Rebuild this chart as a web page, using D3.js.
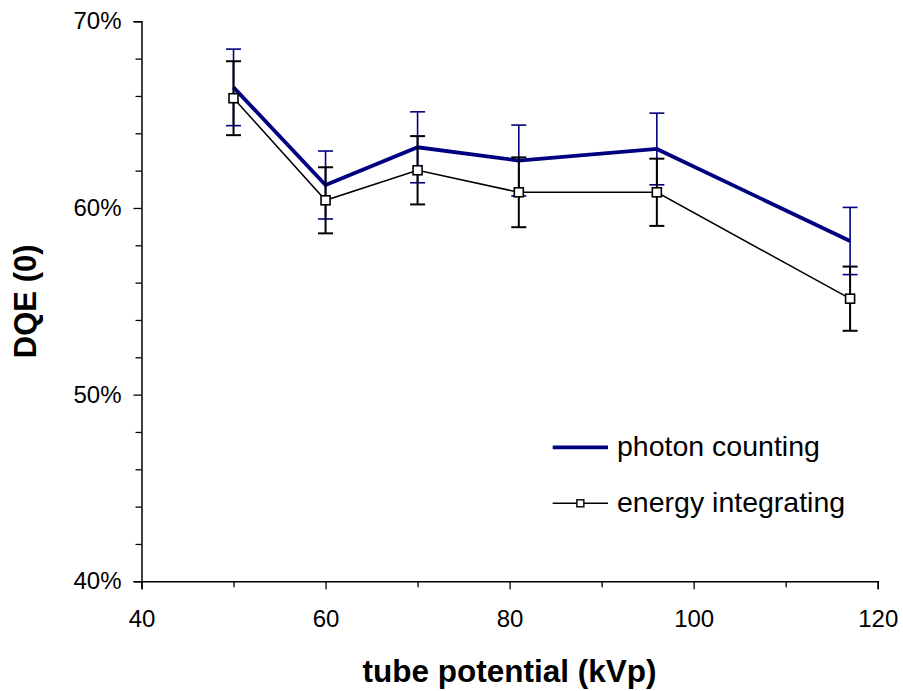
<!DOCTYPE html>
<html>
<head>
<meta charset="utf-8">
<script src="https://cdn.jsdelivr.net/npm/d3@7"></script>
<style>
  html, body { margin: 0; padding: 0; background: #fff; }
  svg { display: block; font-family: Arial, "Liberation Sans", sans-serif; }
</style>
</head>
<body>
<svg id="chart" width="903" height="691"></svg>
<script>
// ---- data ----
const kvp = [50, 60, 70, 81, 96, 117];
const photonCounting = [0.6646, 0.6123, 0.6325, 0.6254, 0.6316, 0.5823];
const photonCountingErr = [0.0205, 0.0182, 0.0190, 0.0190, 0.0192, 0.0180];
const energyIntegrating = [0.6588, 0.6041, 0.6202, 0.6084, 0.6084, 0.5514];
const energyIntegratingErr = [0.0198, 0.0177, 0.0183, 0.0187, 0.0180, 0.0172];
const xTicks = [40, 60, 80, 100, 120];
const xMinorTicks = [50, 70, 90, 110];
const yTicks = [0.40, 0.50, 0.60, 0.70];
const yMinorTicks = [0.42, 0.44, 0.46, 0.48, 0.52, 0.54, 0.56, 0.58, 0.62, 0.64, 0.66, 0.68];
const seriesNames = ["photon counting", "energy integrating"];
const xTitle = "tube potential (kVp)";
const yTitle = "DQE (0)";

// ---- layout ----
const svg = d3.select("#chart");
const L = 141.5, R = 877.7, T = 21.3, B = 581.3;
const x = d3.scaleLinear().domain([40, 120]).range([L, R]);
const y = d3.scaleLinear().domain([0.40, 0.70]).range([B, T]);
const navy = "#000080";

// axes
const xAxis = svg.append("g").attr("transform", `translate(0,${B})`)
  .call(d3.axisBottom(x).tickValues(xTicks).tickSize(8).tickPadding(21).tickFormat(d3.format("d")));
svg.append("g").attr("transform", `translate(0,${B})`)
  .call(d3.axisBottom(x).tickValues(xMinorTicks).tickSize(6).tickFormat(""))
  .select(".domain").remove();
const yAxis = svg.append("g").attr("transform", `translate(${L},0)`)
  .call(d3.axisLeft(y).tickValues(yTicks).tickSize(8).tickPadding(12).tickFormat(d3.format(".0%")));
svg.append("g").attr("transform", `translate(${L},0)`)
  .call(d3.axisLeft(y).tickValues(yMinorTicks).tickSize(6).tickFormat(""))
  .select(".domain").remove();

svg.selectAll(".domain").attr("stroke", "#000").attr("stroke-width", 1.5);
svg.selectAll(".tick line").attr("stroke", "#000").attr("stroke-width", 1.3);
svg.selectAll(".tick text").attr("fill", "#000").style("font-size", "24px")
  .style("font-family", "Arial, 'Liberation Sans', sans-serif");
yAxis.selectAll(".tick text").attr("dy", "0.32em");
xAxis.selectAll(".tick text").attr("dy", "0.71em");

// axis titles
svg.append("text").attr("x", (L + R) / 2).attr("y", 682).attr("text-anchor", "middle")
  .style("font-size", "31.5px").style("font-weight", "bold").text(xTitle);
svg.append("text").attr("transform", `translate(36,${(T + B) / 2}) rotate(-90)`)
  .attr("text-anchor", "middle").style("font-size", "31px").style("font-weight", "bold").text(yTitle);

// error bars helper
function errorBars(vals, errs, color, width) {
  const g = svg.append("g").attr("stroke", color).attr("stroke-width", width).attr("fill", "none");
  const capW = 7.5;
  kvp.forEach((k, i) => {
    const cx = x(k), hi = y(vals[i] + errs[i]), lo = y(vals[i] - errs[i]);
    g.append("line").attr("x1", cx).attr("x2", cx).attr("y1", hi).attr("y2", lo);
    g.append("line").attr("x1", cx - capW).attr("x2", cx + capW).attr("y1", hi).attr("y2", hi);
    g.append("line").attr("x1", cx - capW).attr("x2", cx + capW).attr("y1", lo).attr("y2", lo);
  });
}

const line = d3.line().x(d => x(d[0])).y(d => y(d[1]));

errorBars(photonCounting, photonCountingErr, navy, 1.6);
svg.append("path").datum(kvp.map((k, i) => [k, photonCounting[i]]))
  .attr("d", line).attr("fill", "none").attr("stroke", navy).attr("stroke-width", 3.8)
  .attr("stroke-linejoin", "miter");

errorBars(energyIntegrating, energyIntegratingErr, "#000", 2);
svg.append("path").datum(kvp.map((k, i) => [k, energyIntegrating[i]]))
  .attr("d", line).attr("fill", "none").attr("stroke", "#000").attr("stroke-width", 1.5);

svg.append("g").selectAll("rect").data(kvp.map((k, i) => [k, energyIntegrating[i]])).join("rect")
  .attr("x", d => x(d[0]) - 4.5).attr("y", d => y(d[1]) - 4.5)
  .attr("width", 9).attr("height", 9)
  .attr("fill", "#fff").attr("stroke", "#000").attr("stroke-width", 1.6);

// legend
const lg = svg.append("g");
const lx1 = 552.7, lx2 = 608, tx = 617;
lg.append("line").attr("x1", lx1).attr("x2", lx2).attr("y1", 447.3).attr("y2", 447.3)
  .attr("stroke", navy).attr("stroke-width", 3.8);
lg.append("text").attr("x", tx).attr("y", 456).style("font-size", "28.5px").text(seriesNames[0]);
lg.append("line").attr("x1", lx1).attr("x2", lx2).attr("y1", 503.3).attr("y2", 503.3)
  .attr("stroke", "#000").attr("stroke-width", 1.5);
lg.append("rect").attr("x", (lx1 + lx2) / 2 - 3.5).attr("y", 503.3 - 3.5).attr("width", 7).attr("height", 7)
  .attr("fill", "#fff").attr("stroke", "#000").attr("stroke-width", 1.4);
lg.append("text").attr("x", tx).attr("y", 511.5).style("font-size", "28.5px").text(seriesNames[1]);
</script>
</body>
</html>
